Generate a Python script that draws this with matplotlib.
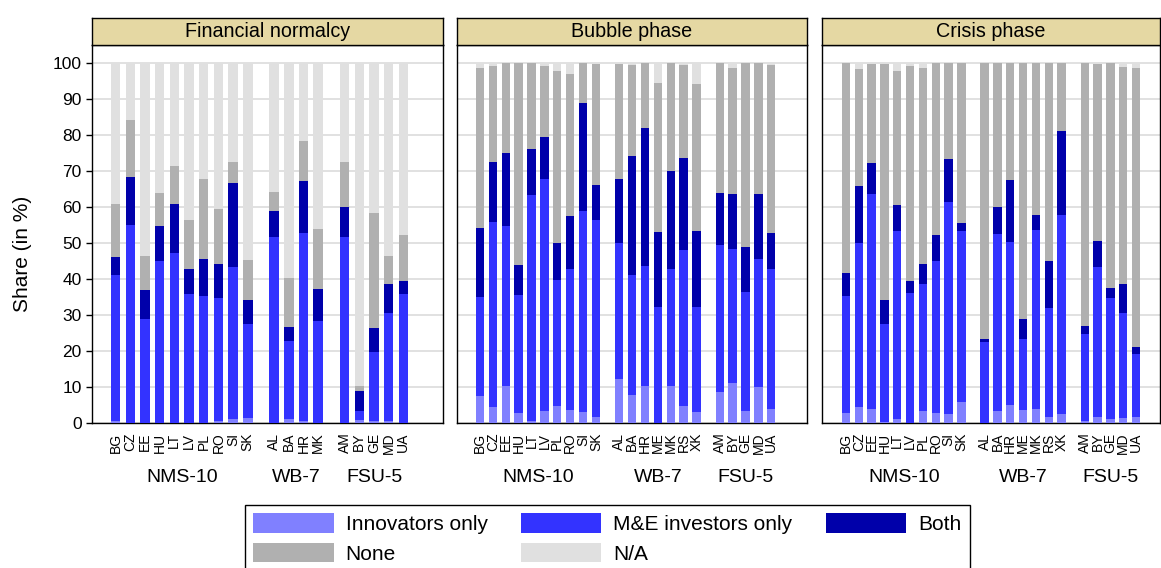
import numpy as np
import matplotlib
matplotlib.use("Agg")
import matplotlib.pyplot as plt
from matplotlib.patches import Patch
from matplotlib.transforms import blended_transform_factory

plt.rcParams['font.family'] = ['Liberation Sans', 'DejaVu Sans']

# country groups
nms = ["BG", "CZ", "EE", "HU", "LT", "LV", "PL", "RO", "SI", "SK"]
wb_norm = ["AL", "BA", "HR", "MK"]
wb = ["AL", "BA", "HR", "ME", "MK", "RS", "XK"]
fsu = ["AM", "BY", "GE", "MD", "UA"]

# shares in % (N/A is the remainder to 100)
norm_innov = [0.6, 0, 0, 0, 0, 0, 0, 0.6, 1.1, 1.5, 0, 1.2, 0.5, 0, 0, 0.9, 0.6, 0.6, 0]
norm_me = [40.4, 55.1, 29.0, 45.0, 47.1, 35.8, 35.4, 34.1, 42.2, 26.0, 51.8, 21.6, 52.3, 28.3, 51.7, 2.5, 19.1, 29.9, 35.7]
norm_both = [5.1, 13.1, 7.9, 9.7, 13.6, 6.9, 10.2, 9.4, 23.4, 6.8, 7.0, 4.0, 14.5, 9.0, 8.4, 5.6, 6.7, 8.2, 3.8]
norm_none = [14.7, 15.9, 9.5, 9.1, 10.8, 13.8, 22.3, 15.4, 5.8, 10.9, 5.4, 13.6, 11.1, 16.5, 12.4, 1.2, 32.0, 7.8, 12.8]

bub_innov = [7.4, 4.5, 10.4, 2.8, 0.5, 3.2, 4.8, 3.6, 3.0, 1.8, 12.3, 7.7, 10.3, 0.0, 10.3, 4.8, 3.0, 8.6, 11.1, 3.4, 10.0, 3.9]
bub_me = [27.5, 51.2, 44.4, 32.8, 62.7, 64.7, 34.9, 39.3, 55.9, 54.6, 37.8, 33.3, 33.2, 32.2, 32.6, 43.2, 29.2, 40.9, 37.2, 33.0, 35.5, 39.0]
bub_both = [19.3, 16.8, 20.1, 8.3, 12.9, 11.5, 10.3, 14.6, 30.1, 9.6, 17.6, 33.2, 38.5, 20.8, 27.1, 25.7, 21.1, 14.3, 15.2, 12.5, 18.1, 9.8]
bub_none = [44.3, 26.6, 25.1, 56.1, 23.9, 19.9, 47.9, 39.5, 11.0, 33.6, 32.1, 25.2, 18.0, 41.4, 30.0, 25.7, 40.9, 36.2, 35.0, 51.1, 36.4, 46.7]

cri_innov = [2.7, 4.5, 3.9, 0.3, 1.2, 0.0, 3.3, 2.9, 2.5, 5.8, 0.0, 3.2, 5.0, 3.7, 4.0, 1.8, 2.6, 0.6, 1.8, 1.2, 1.5, 1.8]
cri_me = [32.6, 45.5, 59.7, 27.3, 52.0, 36.1, 35.2, 42.1, 58.9, 47.5, 22.4, 49.3, 45.2, 19.6, 49.6, 30.2, 55.2, 24.1, 41.5, 33.4, 29.0, 17.3]
cri_both = [6.4, 15.8, 8.5, 6.5, 7.3, 3.3, 5.6, 7.2, 12.0, 2.2, 0.8, 7.4, 17.3, 5.5, 4.2, 12.9, 23.4, 2.3, 7.2, 3.0, 8.2, 1.9]
cri_none = [58.3, 32.6, 27.7, 65.5, 37.4, 59.9, 54.6, 47.8, 26.6, 44.5, 76.8, 40.1, 32.5, 71.2, 42.2, 55.1, 18.8, 73.0, 49.2, 62.4, 60.2, 77.7]

titles = ["Financial normalcy", "Bubble phase", "Crisis phase"]
group_names = ["NMS-10", "WB-7", "FSU-5"]
cat_labels = ["Innovators only", "M&E investors only", "Both", "None", "N/A"]
colors = ["#8080FF", "#3333FF", "#0000AA", "#B0B0B0", "#E0E0E0"]

panels = [
    ([nms, wb_norm, fsu], [norm_innov, norm_me, norm_both, norm_none]),
    ([nms, wb, fsu], [bub_innov, bub_me, bub_both, bub_none]),
    ([nms, wb, fsu], [cri_innov, cri_me, cri_both, cri_none]),
]

W, H = 1161, 568
fig = plt.figure(figsize=(W / 100, H / 100), dpi=100)

# pixel boxes (left, right) of the panels and their x-limits
px_lr = [(92, 443), (457, 807), (822, 1160)]
xlims = [(-1.61, 22.3), (-1.78, 25.37), (-1.87, 24.47)]
top_px, bot_px, strip_top = 45, 423, 18
gap = 1.8

for i, ((groups, series), (l, r)) in enumerate(zip(panels, px_lr)):
    ax = fig.add_axes([l / W, (H - bot_px) / H, (r - l) / W, (bot_px - top_px) / H])
    # x positions with a gap between groups
    xs, labels, centers = [], [], []
    start = 0.0
    for g in groups:
        pos = start + np.arange(len(g))
        xs.extend(pos)
        labels.extend(g)
        centers.append(pos.mean())
        start = pos[-1] + gap
    xs = np.array(xs)
    vals = np.array(series, dtype=float)
    na = 100 - vals.sum(axis=0)
    vals = np.vstack([vals, na])
    bottom = np.zeros(len(xs))
    for v, c in zip(vals, colors):
        ax.bar(xs, v, bottom=bottom, width=0.65, color=c, linewidth=0, zorder=3)
        bottom += v

    ax.set_xlim(*xlims[i])
    ax.set_ylim(0, 105)
    ax.set_yticks(np.arange(0, 101, 10))
    ax.grid(axis='y', color='#DCDCDC', lw=1.2, zorder=0)
    ax.set_xticks(xs)
    ax.set_xticklabels(labels, rotation=90, fontsize=10)
    ax.tick_params(axis='x', length=0, pad=7)
    if i == 0:
        ax.tick_params(axis='y', labelsize=12.5, length=4, width=1)
    else:
        ax.tick_params(axis='y', left=False, labelleft=False)
    for s in ax.spines.values():
        s.set_linewidth(1)

    trans = blended_transform_factory(ax.transData, ax.transAxes)
    for c, name in zip(centers, group_names):
        ax.text(c, -0.1455, name, transform=trans, ha='center', va='center', fontsize=14)

    # title strip
    sax = fig.add_axes([l / W, (H - top_px) / H, (r - l) / W, (top_px - strip_top) / H])
    sax.set_facecolor('#E5D8A3')
    sax.set_xticks([])
    sax.set_yticks([])
    for s in sax.spines.values():
        s.set_linewidth(1)
    sax.text(0.5, 0.5, titles[i], ha='center', va='center', fontsize=14.2, transform=sax.transAxes)

fig.text(23 / W, (H - 254) / H, "Share (in %)", rotation=90, ha='center', va='center', fontsize=15)

handles = [Patch(facecolor=c, edgecolor='none') for c in colors]
order = [0, 3, 1, 4, 2]
leg = fig.legend([handles[k] for k in order], [cat_labels[k] for k in order],
                 ncol=3, loc='upper left', bbox_to_anchor=(245 / W, (H - 505) / H),
                 borderaxespad=0, fontsize=15, handlelength=3.85, handleheight=1.06,
                 handletextpad=0.58, columnspacing=1.6, labelspacing=0.42,
                 fancybox=False, edgecolor='black', framealpha=1, borderpad=0.4)
leg.get_frame().set_linewidth(1)

fig.savefig("out.png", dpi=100)
